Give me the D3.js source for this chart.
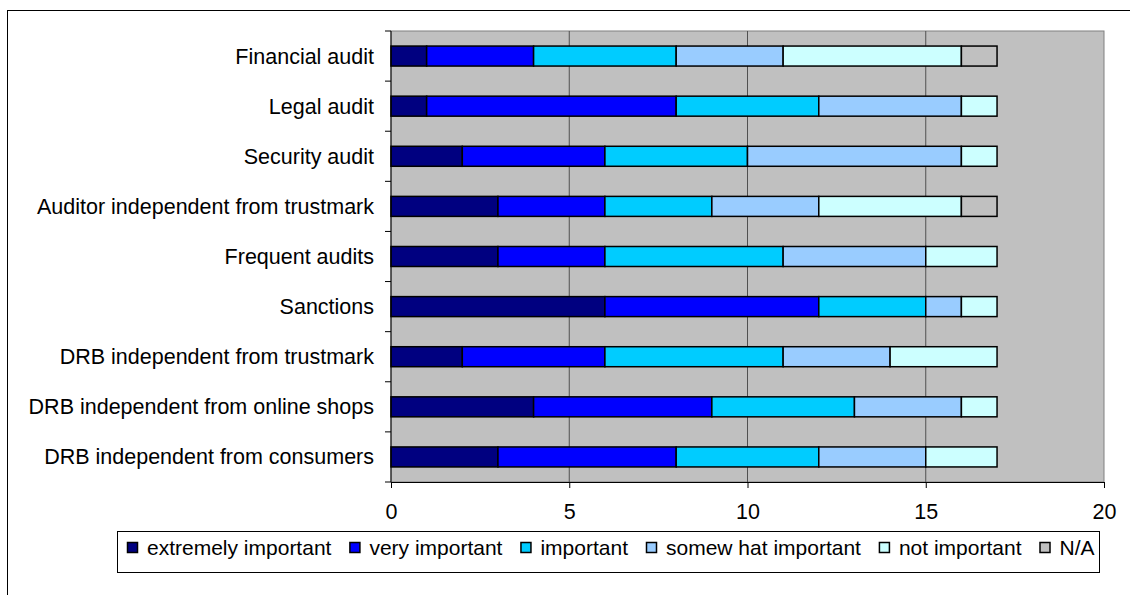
<!DOCTYPE html>
<html>
<head>
<meta charset="utf-8">
<script src="https://cdn.jsdelivr.net/npm/d3@7"></script>
<style>
  body { margin: 0; background: #fff; }
  svg { display: block; font-family: 'Liberation Sans', Arial, sans-serif; }
  .label { font-size: 21.5px; fill: #000; }
  .legend-label { font-size: 21px; fill: #000; }
</style>
</head>
<body>
<svg width="1130" height="595"></svg>
<script>
const criteria = [
  'Financial audit',
  'Legal audit',
  'Security audit',
  'Auditor independent from trustmark',
  'Frequent audits',
  'Sanctions',
  'DRB independent from trustmark',
  'DRB independent from online shops',
  'DRB independent from consumers',
]
const levels = ['extremely important', 'very important', 'important', 'somew hat important', 'not important', 'N/A']
const levelColors = ['#000080', '#0000ff', '#00ccff', '#99ccff', '#ccffff', '#c0c0c0']

const extremely = [1, 1, 2, 3, 3, 6, 2, 4, 3]
const very      = [3, 7, 4, 3, 3, 6, 4, 5, 5]
const important = [4, 4, 4, 3, 5, 3, 5, 4, 4]
const somewhat  = [3, 4, 6, 3, 4, 1, 3, 3, 3]
const notImp    = [5, 1, 1, 4, 2, 1, 3, 1, 2]
const na        = [1, 0, 0, 1, 0, 0, 0, 0, 0]
const xTicks = [0, 5, 10, 15, 20]

const columns = [extremely, very, important, somewhat, notImp, na]
const data = criteria.map((name, i) => {
  const row = { name }
  levels.forEach((lv, j) => { row[lv] = columns[j][i] })
  return row
})

const margin = { top: 31, right: 26, bottom: 113, left: 391 }
const width = 1130, height = 595
const barHeight = 20

const svg = d3.select('svg')

// outer frame (right and bottom edges fall outside the picture)
svg.append('rect')
  .attr('x', 7.5).attr('y', 10.5)
  .attr('width', 1200).attr('height', 700)
  .attr('fill', 'none').attr('stroke', '#000').attr('stroke-width', 1)

const xScale = d3.scaleLinear([0, 20], [margin.left, width - margin.right])
const yScale = d3.scaleBand(criteria, [margin.top, height - margin.bottom])
const colorScale = d3.scaleOrdinal(levels, levelColors)

// plot area
svg.append('rect')
  .attr('x', xScale(0)).attr('y', margin.top)
  .attr('width', xScale(20) - xScale(0))
  .attr('height', height - margin.bottom - margin.top)
  .attr('fill', '#c0c0c0').attr('stroke', '#808080').attr('stroke-width', 1)

// gridlines
svg.append('g')
  .selectAll('line')
  .data(xTicks.slice(1, -1))
  .join('line')
  .attr('x1', d => xScale(d)).attr('x2', d => xScale(d))
  .attr('y1', margin.top).attr('y2', height - margin.bottom)
  .attr('stroke', '#505050').attr('stroke-width', 1)

// bars
const series = d3.stack().keys(levels)(data)
svg.append('g')
  .selectAll('g')
  .data(series)
  .join('g')
  .attr('fill', d => colorScale(d.key))
  .selectAll('rect')
  .data(d => d.filter(s => s[1] > s[0]))
  .join('rect')
  .attr('x', d => xScale(d[0]))
  .attr('y', d => yScale(d.data.name) + (yScale.bandwidth() - barHeight) / 2)
  .attr('width', d => xScale(d[1]) - xScale(d[0]))
  .attr('height', barHeight)
  .attr('stroke', '#000').attr('stroke-width', 1.5)

// x axis
const xAxis = d3.axisBottom(xScale).tickValues(xTicks).tickSize(6).tickPadding(16)
const xAxisEl = svg.append('g')
  .attr('transform', `translate(0,${ height - margin.bottom })`)
  .call(xAxis)
xAxisEl.selectAll('.tick text').attr('class', 'label').attr('font-size', null).attr('font-family', null)

// y axis
const bounds = d3.range(criteria.length + 1).map(i => margin.top + i * yScale.step())
const yAxisEl = svg.append('g')
yAxisEl.append('line')
  .attr('x1', xScale(0)).attr('x2', xScale(0))
  .attr('y1', margin.top).attr('y2', height - margin.bottom)
  .attr('stroke', '#000')
yAxisEl.selectAll('.ytick')
  .data(bounds)
  .join('line')
  .attr('x1', xScale(0) - 6).attr('x2', xScale(0))
  .attr('y1', d => d).attr('y2', d => d)
  .attr('stroke', '#000')
yAxisEl.selectAll('text')
  .data(criteria)
  .join('text')
  .attr('class', 'label')
  .attr('x', xScale(0) - 17)
  .attr('y', d => yScale(d) + yScale.bandwidth() / 2)
  .attr('dy', '0.35em')
  .attr('text-anchor', 'end')
  .text(d => d)

// legend
const legend = svg.append('g')
legend.append('rect')
  .attr('x', 117.5).attr('y', 531.5)
  .attr('width', 982).attr('height', 41)
  .attr('fill', '#fff').attr('stroke', '#000')
let lx = 127
levels.forEach(lv => {
  const item = legend.append('g')
  item.append('rect')
    .attr('x', lx + 0.5).attr('y', 542.5)
    .attr('width', 10).attr('height', 10)
    .attr('fill', colorScale(lv)).attr('stroke', '#000').attr('stroke-width', 1.5)
  const t = item.append('text')
    .attr('class', 'legend-label')
    .attr('x', lx + 20).attr('y', 555)
    .text(lv)
  lx += 20 + t.node().getComputedTextLength() + 18
})
</script>
</body>
</html>
